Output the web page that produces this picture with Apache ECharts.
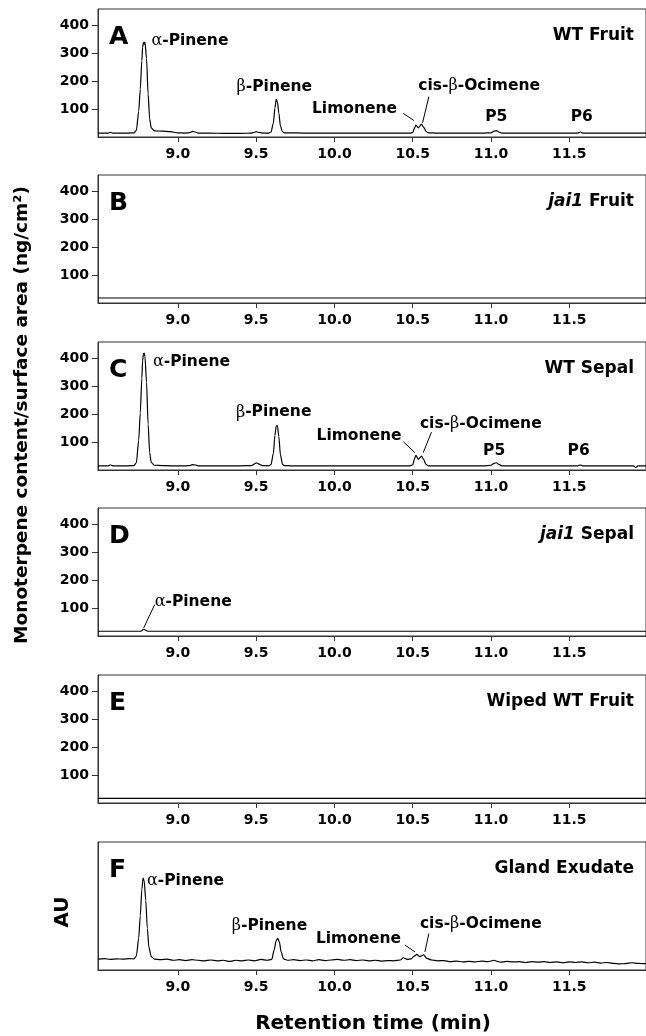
<!DOCTYPE html>
<html>
<head>
<meta charset="utf-8">
<script src="https://cdn.jsdelivr.net/npm/echarts@6/dist/echarts.min.js"></script>
<style>
html,body{margin:0;padding:0;background:#fff;}
#chart{width:646px;height:1036px;}
</style>
</head>
<body>
<div id="chart"></div>
<script>
// ---- data ----
const panelLetters = ['A', 'B', 'C', 'D', 'E', 'F'];
const panelNames = ['WT Fruit', '{it|jai1} Fruit', 'WT Sepal', '{it|jai1} Sepal', 'Wiped WT Fruit', 'Gland Exudate'];
const xTicks = [9.0, 9.5, 10.0, 10.5, 11.0, 11.5];
const yTicks = [100, 200, 300, 400];

// retention times shared by panels A, C, D (min)
const times = [8.49, 8.53, 8.555, 8.57, 8.585, 8.62, 8.68, 8.72, 8.735, 8.75,
  8.76, 8.77, 8.775, 8.78, 8.785, 8.79, 8.80, 8.81, 8.82, 8.83,
  8.85, 8.90, 8.95, 9.00, 9.05, 9.075, 9.095, 9.11, 9.13, 9.2,
  9.3, 9.4, 9.47, 9.49, 9.50, 9.515, 9.54, 9.58, 9.595, 9.61,
  9.62, 9.628, 9.636, 9.645, 9.655, 9.668, 9.68, 9.72, 9.8, 9.9,
  10.0, 10.1, 10.2, 10.3, 10.4, 10.48, 10.50, 10.51, 10.52, 10.536,
  10.556, 10.57, 10.585, 10.60, 10.65, 10.75, 10.85, 10.95, 11.0, 11.02,
  11.035, 11.05, 11.07, 11.2, 11.35, 11.5, 11.555, 11.57, 11.585, 11.65,
  11.75, 11.85, 11.91, 11.925, 11.94, 11.99];

const valsA = [14, 14, 14, 17, 14, 14, 14, 15, 24, 92,
  172, 275, 322, 340, 334, 341, 282, 155, 65, 33,
  22, 21, 19, 15, 14, 16, 20, 18, 14, 14,
  13, 13, 14, 17, 19, 17, 14, 14, 18, 50,
  104, 135, 126, 86, 40, 19, 15, 15, 14, 14,
  14, 14, 14, 14, 14, 14, 16, 30, 43, 33,
  46, 35, 20, 15, 14, 14, 14, 14, 15, 21,
  23, 18, 14, 14, 14, 14, 14, 18, 14, 14,
  14, 14, 14, 14, 14, 14];

const valsC = [15, 15, 15, 18, 15, 15, 15, 16, 26, 108,
  205, 330, 392, 418, 420, 408, 315, 165, 62, 27,
  17, 16, 15, 15, 15, 16, 19, 18, 15, 15,
  15, 15, 16, 22, 26, 22, 16, 15, 19, 60,
  124, 158, 160, 120, 55, 21, 16, 15, 15, 15,
  15, 15, 15, 15, 15, 15, 18, 38, 53, 38,
  50, 38, 20, 15, 15, 15, 15, 15, 17, 24,
  26, 20, 15, 15, 15, 15, 15, 18, 15, 15,
  15, 15, 15, 9, 15, 15];

const valsD = [17, 17, 17, 17, 17, 17, 17, 17, 17, 17,
  17, 19, 22, 24, 24, 22, 19, 17, 17, 17,
  17, 17, 17, 17, 17, 17, 17, 17, 17, 17,
  17, 17, 17, 17, 17, 17, 17, 17, 17, 17,
  17, 17, 17, 17, 17, 17, 17, 17, 17, 17,
  17, 17, 17, 17, 17, 17, 17, 17, 17, 17,
  17, 17, 17, 17, 17, 17, 17, 17, 17, 17,
  17, 17, 17, 17, 17, 17, 17, 17, 17, 17,
  17, 17, 17, 17, 17, 17];

const timesFlat = [8.49, 11.99];
const valsB = [18, 18];
const valsE = [16.5, 16.5];

const timesF = [8.49, 8.53, 8.57, 8.61, 8.65, 8.69, 8.72, 8.735, 8.75, 8.76,
  8.77, 8.778, 8.785, 8.795, 8.805, 8.815, 8.83, 8.85, 8.89, 8.93,
  8.97, 9.01, 9.05, 9.09, 9.13, 9.17, 9.21, 9.25, 9.29, 9.33,
  9.37, 9.41, 9.45, 9.49, 9.53, 9.57, 9.60, 9.615, 9.628, 9.638,
  9.648, 9.66, 9.675, 9.70, 9.74, 9.78, 9.82, 9.86, 9.90, 9.94,
  9.98, 10.02, 10.06, 10.10, 10.14, 10.18, 10.22, 10.26, 10.30, 10.34,
  10.38, 10.42, 10.44, 10.465, 10.49, 10.51, 10.527, 10.545, 10.57, 10.59,
  10.62, 10.66, 10.70, 10.74, 10.78, 10.82, 10.86, 10.90, 10.94, 10.98,
  11.02, 11.04, 11.06, 11.10, 11.14, 11.18, 11.22, 11.26, 11.30, 11.34,
  11.38, 11.42, 11.46, 11.50, 11.54, 11.58, 11.62, 11.66, 11.70, 11.74,
  11.78, 11.82, 11.86, 11.90, 11.94, 11.99];
const valsF = [39, 41, 38, 40, 39, 41, 40, 50, 115, 195,
  290, 330, 320, 250, 150, 82, 48, 39, 37, 39,
  35, 37, 34, 37, 35, 33, 36, 33, 35, 31,
  35, 33, 36, 33, 38, 35, 38, 72, 106, 114,
  102, 64, 40, 35, 37, 34, 36, 33, 37, 34,
  36, 38, 35, 37, 34, 36, 33, 35, 32, 34,
  33, 36, 44, 38, 40, 50, 56, 48, 54, 42,
  36, 33, 34, 30, 32, 29, 31, 29, 32, 30,
  35, 31, 28, 31, 29, 30, 27, 30, 28, 30,
  27, 29, 26, 29, 27, 29, 26, 28, 25, 27,
  24, 22, 23, 26, 24, 23];

// peak labels: [text, time, value, align]
const peakLabelsA = [['α-Pinene', 8.831, 344, 'left'], ['β-Pinene', 9.375, 181, 'left'],
  ['Limonene', 10.40, 100, 'right'], ['cis-β-Ocimene', 10.536, 183, 'left'],
  ['P5', 11.034, 73, 'center'], ['P6', 11.58, 73, 'center']];
const peakLabelsC = [['α-Pinene', 8.841, 390, 'left'], ['β-Pinene', 9.371, 207, 'left'],
  ['Limonene', 10.429, 122, 'right'], ['cis-β-Ocimene', 10.546, 165, 'left'],
  ['P5', 11.02, 68, 'center'], ['P6', 11.56, 68, 'center']];
const peakLabelsD = [['α-Pinene', 8.852, 122, 'left']];
const peakLabelsF = [['α-Pinene', 8.803, 320, 'left'], ['β-Pinene', 9.344, 158, 'left'],
  ['Limonene', 10.425, 113, 'right'], ['cis-β-Ocimene', 10.546, 167, 'left']];
// leader lines: [t1, v1, t2, v2]
const leadersA = [[10.440, 85, 10.508, 59], [10.603, 145, 10.563, 51]];
const leadersC = [[10.440, 102, 10.514, 62], [10.620, 136, 10.567, 62]];
const leadersD = [[8.852, 113, 8.782, 29]];
const leadersF = [[10.45, 90, 10.514, 65], [10.603, 131, 10.578, 65]];

// ---- chart ----
const FONT = 'DejaVu Sans';
const tops = [9, 175, 342, 508, 675, 842];
const panelTimes = [times, timesFlat, times, times, timesFlat, timesF];
const panelVals = [valsA, valsB, valsC, valsD, valsE, valsF];
const panelLabels = [peakLabelsA, [], peakLabelsC, peakLabelsD, [], peakLabelsF];
const panelLeaders = [leadersA, [], leadersC, leadersD, [], leadersF];

const zip = (t, v) => t.map((x, i) => [x, v[i]]);
const greek = s => s.replace(/([αβ])/g, '{g|$1}');

const peakLabelStyle = {
  show: true, position: 'inside', verticalAlign: 'middle',
  fontFamily: FONT, fontWeight: 'bold', fontSize: 15.5, color: '#000', opacity: 1,
  textBorderWidth: 0,
  rich: { g: { fontFamily: 'DejaVu Serif', fontWeight: 'normal', fontSize: 16, color: '#000' } }
};

const grids = [], xAxes = [], yAxes = [], series = [], titles = [];
tops.forEach((top, i) => {
  grids.push({ left: 98, right: -2, top: top, height: 128, show: true,
    borderColor: '#333', borderWidth: 1, backgroundColor: 'transparent', containLabel: false });
  xAxes.push({ type: 'value', gridIndex: i, min: 8.49, max: 11.99,
    axisLine: { show: true, onZero: false, lineStyle: { color: '#333', width: 1 } },
    axisTick: { show: true, inside: false, length: 5, customValues: xTicks, lineStyle: { color: '#333' } },
    axisLabel: { show: true, customValues: xTicks, formatter: v => v.toFixed(1), margin: 10,
      fontFamily: FONT, fontWeight: 'bold', fontSize: 14, color: '#000' },
    splitLine: { show: false } });
  const showY = i < 5;
  yAxes.push({ type: 'value', gridIndex: i, min: 0, max: 460,
    axisLine: { show: true, lineStyle: { color: '#333', width: 1 } },
    axisTick: { show: showY, inside: false, length: 6, customValues: yTicks, lineStyle: { color: '#333' } },
    axisLabel: { show: showY, customValues: yTicks, margin: 9,
      fontFamily: FONT, fontWeight: 'bold', fontSize: 14, color: '#000' },
    splitLine: { show: false } });
  series.push({ type: 'line', xAxisIndex: i, yAxisIndex: i, data: zip(panelTimes[i], panelVals[i]),
    symbol: 'none', showSymbol: false, smooth: 0.25, smoothMonotone: 'x', silent: true,
    lineStyle: { color: '#000', width: 1.2 },
    itemStyle: { color: '#000' },
    markLine: { silent: true, symbol: ['none', 'none'], animation: false,
      lineStyle: { color: '#000', width: 1, type: 'solid' }, label: { show: false },
      data: panelLeaders[i].map(l => [{ coord: [l[0], l[1]] }, { coord: [l[2], l[3]] }]) },
    markPoint: { silent: true, animation: false, symbol: 'circle', symbolSize: 0,
      itemStyle: { color: '#000' },
      label: peakLabelStyle,
      data: panelLabels[i].map(l => ({ coord: [l[1], l[2]], name: l[0],
        label: { align: l[3], formatter: greek(l[0]) } })) } });
  titles.push({ text: panelLetters[i], left: 104, top: top + 11,
    textStyle: { fontFamily: FONT, fontWeight: 'bold', fontSize: 25, color: '#000' } });
  titles.push({ text: panelNames[i], right: 7, top: top + 13,
    textStyle: { fontFamily: FONT, fontWeight: 'bold', fontSize: 17, color: '#000',
      rich: { it: { fontFamily: FONT, fontWeight: 'bold', fontStyle: 'italic', fontSize: 17, color: '#000' } } } });
});

const chart = echarts.init(document.getElementById('chart'), null, { renderer: 'canvas' });
chart.setOption({
  animation: false,
  backgroundColor: '#fff',
  title: titles,
  grid: grids,
  xAxis: xAxes,
  yAxis: yAxes,
  series: series,
  graphic: [
    { type: 'text', x: 22, y: 415, rotation: Math.PI / 2,
      style: { text: 'Monoterpene content/surface area (ng/cm²)', x: 0, y: 0, align: 'center', verticalAlign: 'middle',
        font: 'bold 18.5px "DejaVu Sans"', fill: '#000' } },
    { type: 'text', x: 63, y: 912, rotation: Math.PI / 2,
      style: { text: 'AU', x: 0, y: 0, align: 'center', verticalAlign: 'middle',
        font: 'bold 20px "DejaVu Sans"', fill: '#000' } },
    { type: 'text', x: 373, y: 1024,
      style: { text: 'Retention time (min)', x: 0, y: 0, align: 'center', verticalAlign: 'middle',
        font: 'bold 20px "DejaVu Sans"', fill: '#000' } }
  ]
});
</script>
</body>
</html>
